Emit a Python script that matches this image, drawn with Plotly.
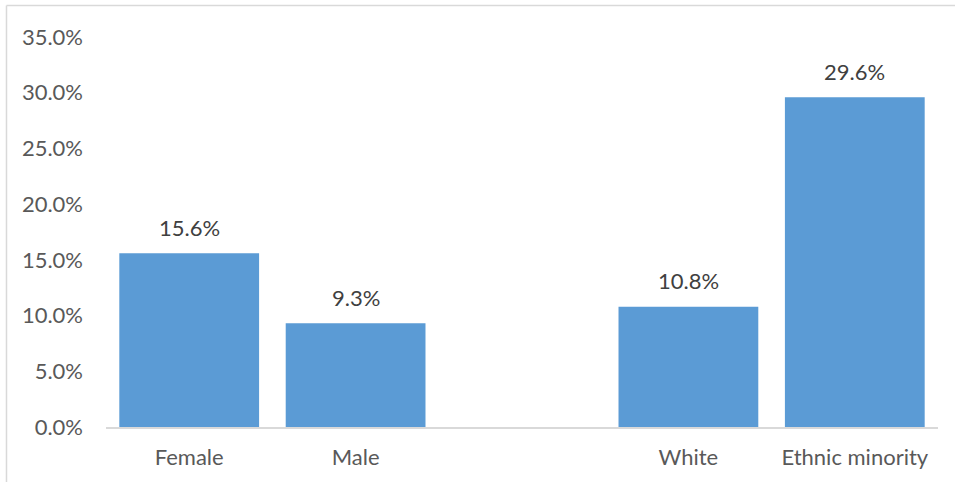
import plotly.graph_objects as go

categories = ["Female", "Male", " ", "White", "Ethnic minority"]
values = [0.156, 0.093, None, 0.108, 0.296]
labels = ["15.6%", "9.3%", "", "10.8%", "29.6%"]
y_ticks = [0, 0.05, 0.10, 0.15, 0.20, 0.25, 0.30, 0.35]
y_tick_labels = ["0.0%", "5.0%", "10.0%", "15.0%", "20.0%", "25.0%", "30.0%", "35.0%"]

FONT = "Lato"
TXT = "#595959"
FS = 22

fig = go.Figure(go.Bar(
    x=categories, y=values,
    marker=dict(color="#5b9bd5", line=dict(width=0)),
    cliponaxis=False,
))

annotations = [
    dict(x=c, y=v, text=t, showarrow=False, xref="x", yref="y",
         yanchor="middle", yshift=26,
         font=dict(family=FONT, size=FS, color="#404040"))
    for c, v, t in zip(categories, values, labels) if v is not None
]

fig.update_layout(
    width=955, height=482,
    margin=dict(l=106, r=17, t=37, b=55),
    paper_bgcolor="white", plot_bgcolor="white",
    bargap=0.16,
    showlegend=False,
    font=dict(family=FONT, size=FS, color=TXT),
    annotations=annotations,
    xaxis=dict(type="category", categoryorder="array", categoryarray=categories,
               showgrid=False, showline=True, linecolor="#d9d9d9", linewidth=1.5,
               ticks="", ticklabelstandoff=10,
               tickfont=dict(family=FONT, size=FS, color=TXT), zeroline=False),
    yaxis=dict(range=[0, 0.35], tickvals=y_ticks, ticktext=y_tick_labels,
               showgrid=False, showline=False, zeroline=False, ticks="",
               ticklabelstandoff=22,
               tickfont=dict(family=FONT, size=FS, color=TXT)),
    shapes=[
        dict(type="line", xref="paper", yref="paper", x0=-0.1196, x1=1.1, y0=1.0805, y1=1.0805,
             line=dict(color="#d9d9d9", width=1.5)),
        dict(type="line", xref="paper", yref="paper", x0=-0.1196, x1=-0.1196, y0=1.0805, y1=-0.3,
             line=dict(color="#d9d9d9", width=1.5)),
    ],
)

fig.write_html("out.html")
